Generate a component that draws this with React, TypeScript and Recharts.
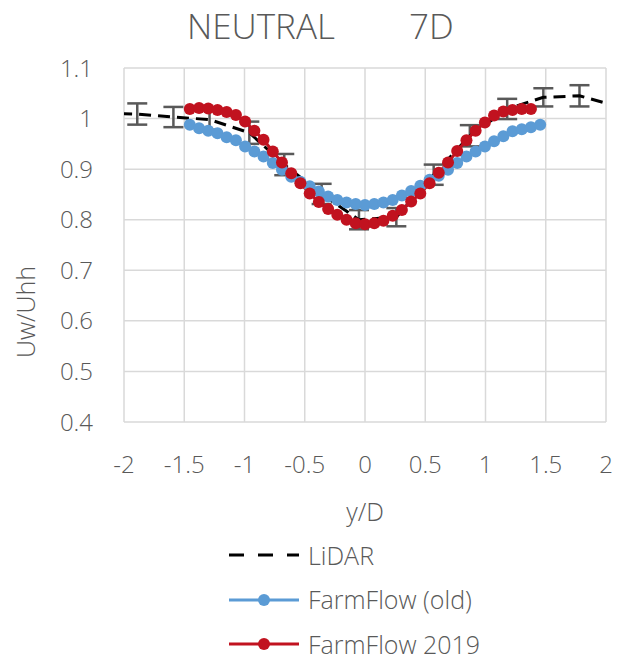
import React from 'react'
import {
    LineChart,
    Line,
    XAxis,
    YAxis,
    CartesianGrid,
    ErrorBar,
    Legend,
} from 'recharts'

// tick labels
const xTicks = [-2, -1.5, -1, -0.5, 0, 0.5, 1, 1.5, 2]
const yTicks = [0.4, 0.5, 0.6, 0.7, 0.8, 0.9, 1, 1.1]

// LiDAR measurements (first and last points lie just outside the axis range)
const lidarX = [-2.19, -1.89, -1.59, -1.29, -0.96, -0.67, -0.36, -0.05, 0.26, 0.57, 0.87, 1.18, 1.48, 1.78, 2.08]
const lidarY = [1.011, 1.009, 1.003, 0.998, 0.972, 0.909, 0.851, 0.8, 0.805, 0.889, 0.966, 1.019, 1.042, 1.045, 1.025]
const lidarErr = [null, 0.021, 0.02, 0.02, 0.022, 0.021, 0.02, 0.019, 0.018, 0.02, 0.021, 0.02, 0.018, 0.021, null]

// FarmFlow model points
const flowX = [
    -1.454, -1.377, -1.301, -1.224, -1.148, -1.071, -0.995, -0.918, -0.842, -0.765,
    -0.689, -0.612, -0.536, -0.459, -0.383, -0.306, -0.23, -0.153, -0.077, 0,
    0.077, 0.153, 0.23, 0.306, 0.383, 0.459, 0.536, 0.612, 0.689, 0.765,
    0.842, 0.918, 0.995, 1.071, 1.148, 1.224, 1.301, 1.377, 1.454,
]
const flowOld = [
    0.988, 0.981, 0.976, 0.971, 0.963, 0.957, 0.945, 0.935, 0.925, 0.912,
    0.899, 0.885, 0.875, 0.866, 0.856, 0.846, 0.839, 0.834, 0.831, 0.829,
    0.831, 0.834, 0.839, 0.848, 0.857, 0.867, 0.879, 0.887, 0.899, 0.912,
    0.925, 0.935, 0.945, 0.955, 0.965, 0.975, 0.979, 0.983, 0.988,
]
const flow2019 = [
    1.019, 1.021, 1.02, 1.017, 1.013, 1.007, 0.994, 0.976, 0.958, 0.935,
    0.913, 0.892, 0.872, 0.852, 0.835, 0.821, 0.81, 0.8, 0.793, 0.791,
    0.793, 0.798, 0.808, 0.819, 0.836, 0.852, 0.872, 0.893, 0.913, 0.936,
    0.957, 0.976, 0.992, 1.006, 1.014, 1.017, 1.019, 1.019,
]

const lidarData = lidarX.map((x, i) => ({ x, y: lidarY[i], err: lidarErr[i] }))
const oldData = flowOld.map((y, i) => ({ x: flowX[i], y }))
const newData = flow2019.map((y, i) => ({ x: flowX[i], y }))

const FONT = '"Open Sans", "Segoe UI", sans-serif'
const GREY = '#595959'
const BLUE = '#5B9BD5'
const RED = '#C1121F'

const legendItems = [
    { name: 'LiDAR', color: '#000000', dashed: true },
    { name: 'FarmFlow (old)', color: BLUE, dashed: false },
    { name: 'FarmFlow 2019', color: RED, dashed: false },
]

const renderLegend = () => (
    <div style={{ fontFamily: FONT, fontWeight: 300, fontSize: 25, lineHeight: '25px', color: GREY }}>
        {legendItems.map((item) => (
            <div key={item.name} style={{ display: 'flex', alignItems: 'center', height: 44.5 }}>
                <svg width={78} height={14} style={{ marginRight: 1 }}>
                    <line
                        x1={0}
                        x2={70}
                        y1={7}
                        y2={7}
                        stroke={item.color}
                        strokeWidth={3}
                        strokeDasharray={item.dashed ? '15 14' : undefined}
                    />
                    {!item.dashed && <circle cx={35} cy={7} r={6} fill={item.color} />}
                </svg>
                <span>{item.name}</span>
            </div>
        ))}
    </div>
)

const App: React.FC = () => {
    const tickStyle = { fill: GREY, fontSize: 24, fontFamily: FONT, fontWeight: 300 }
    return (
        <div style={{ position: 'absolute', left: 0, top: 0, width: 621, height: 660, background: '#fff' }}>
            <div
                style={{
                    position: 'absolute',
                    top: 8,
                    left: 0,
                    width: 621,
                    height: 35,
                    lineHeight: '35px',
                    fontFamily: FONT,
                    fontWeight: 300,
                    fontSize: 35,
                    color: GREY,
                }}
            >
                <span style={{ position: 'absolute', left: 187 }}>NEUTRAL</span>
                <span style={{ position: 'absolute', left: 409 }}>7D</span>
            </div>
            <LineChart
                width={621}
                height={660}
                margin={{ top: 68, right: 15, left: 0, bottom: 0 }}
            >
                <CartesianGrid stroke='#d9d9d9' strokeWidth={1.5} />
                <XAxis
                    dataKey='x'
                    type='number'
                    domain={[-2, 2]}
                    ticks={xTicks}
                    allowDataOverflow
                    axisLine={false}
                    tickLine={false}
                    tickSize={0}
                    tickMargin={34}
                    height={238}
                    tick={tickStyle}
                    label={{
                        value: 'y/D',
                        content: (p: any) => (
                            <text
                                x={p.viewBox.x + p.viewBox.width / 2}
                                y={p.viewBox.y + 99}
                                textAnchor='middle'
                                fill={GREY}
                                fontSize={25}
                                fontFamily={FONT}
                                fontWeight={300}
                            >
                                y/D
                            </text>
                        ),
                    }}
                />
                <YAxis
                    type='number'
                    domain={[0.4, 1.1]}
                    ticks={yTicks}
                    allowDataOverflow
                    axisLine={false}
                    tickLine={false}
                    tickSize={0}
                    tickMargin={31}
                    width={124}
                    tick={tickStyle}
                    label={{
                        value: 'Uw/Uhh',
                        content: (p: any) => {
                            const cx = p.viewBox.x + 25
                            const cy = p.viewBox.y + p.viewBox.height / 2 + 67
                            return (
                                <text
                                    x={cx}
                                    y={cy}
                                    transform={`rotate(-90, ${cx}, ${cy})`}
                                    textAnchor='middle'
                                    dominantBaseline='central'
                                    fill={GREY}
                                    fontSize={25}
                                    fontFamily={FONT}
                                    fontWeight={300}
                                >
                                    Uw/Uhh
                                </text>
                            )
                        },
                    }}
                />
                <Legend
                    layout='vertical'
                    align='center'
                    verticalAlign='middle'
                    content={renderLegend}
                    wrapperStyle={{ left: 229, top: 533, width: 380 }}
                />
                <Line
                    name='LiDAR'
                    data={lidarData}
                    dataKey='y'
                    stroke='#000000'
                    strokeWidth={3}
                    strokeDasharray='12 7'
                    dot={false}
                    activeDot={false}
                    isAnimationActive={false}
                >
                    <ErrorBar
                        dataKey='err'
                        direction='y'
                        width={10}
                        stroke={GREY}
                        strokeWidth={2.5}
                    />
                </Line>
                <Line
                    name='FarmFlow (old)'
                    data={oldData}
                    dataKey='y'
                    stroke={BLUE}
                    strokeWidth={3}
                    dot={{ r: 6, fill: BLUE, stroke: BLUE, strokeWidth: 0 }}
                    activeDot={false}
                    isAnimationActive={false}
                />
                <Line
                    name='FarmFlow 2019'
                    data={newData}
                    dataKey='y'
                    stroke={RED}
                    strokeWidth={3}
                    dot={{ r: 6, fill: RED, stroke: RED, strokeWidth: 0 }}
                    activeDot={false}
                    isAnimationActive={false}
                />
            </LineChart>
        </div>
    )
}

export default App
